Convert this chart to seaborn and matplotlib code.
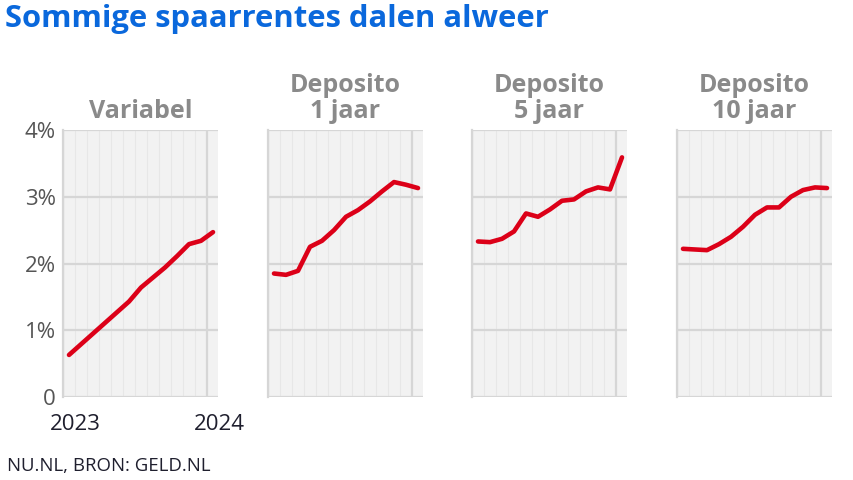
import matplotlib
matplotlib.use("Agg")
import matplotlib.pyplot as plt
import matplotlib.transforms as mtransforms
import seaborn as sns
import pandas as pd
import numpy as np

# ---- data (monthly, mid-month Jan 2023 .. Jan 2024) ----
months = [0.5, 1.5, 2.5, 3.5, 4.5, 5.5, 6.5, 7.5, 8.5, 9.5, 10.5, 11.5, 12.5]
variabel = [0.63, 0.79, 0.95, 1.11, 1.27, 1.43, 1.64, 1.79, 1.94, 2.11, 2.29, 2.34, 2.47]
deposito_1 = [1.85, 1.83, 1.89, 2.25, 2.34, 2.50, 2.70, 2.80, 2.93, 3.08, 3.22, 3.18, 3.13]
deposito_5 = [2.33, 2.32, 2.37, 2.48, 2.75, 2.70, 2.81, 2.94, 2.96, 3.08, 3.14, 3.11, 3.59]
deposito_10 = [2.22, 2.21, 2.20, 2.29, 2.40, 2.55, 2.73, 2.84, 2.84, 3.00, 3.10, 3.14, 3.13]

panel_titles = ["Variabel", "Deposito\n1 jaar", "Deposito\n5 jaar", "Deposito\n10 jaar"]
series = [variabel, deposito_1, deposito_5, deposito_10]
y_ticks = [0, 1, 2, 3, 4]
y_labels = ["0", "1%", "2%", "3%", "4%"]
x_ticks = [0, 12]
x_labels = ["2023", "2024"]

sns.set_theme(style="white")
plt.rcParams["font.family"] = ["Open Sans", "DejaVu Sans"]

W, H = 854, 480
fig = plt.figure(figsize=(W / 100, H / 100), dpi=100)

lefts = [63, 268, 472, 677]
pw = 155
top, bottom = 130, 397

for i, (lx, title, vals) in enumerate(zip(lefts, panel_titles, series)):
    ax = fig.add_axes([lx / W, 1 - bottom / H, pw / W, (bottom - top) / H])
    ax.set_facecolor("#f2f2f2")
    df = pd.DataFrame({"month": months, "rate": vals})
    sns.lineplot(data=df, x="month", y="rate", ax=ax, color="#dc0018",
                 linewidth=3.3, solid_capstyle="round", solid_joinstyle="round", zorder=5)
    ax.set_xlim(0, pw / 12)
    ax.set_ylim(0, 4)
    ax.set_xlabel("")
    ax.set_ylabel("")
    # minor monthly verticals
    ax.set_xticks(np.arange(1, 13), minor=True)
    ax.grid(which="minor", axis="x", color="#e7e7e7", linewidth=0.8, zorder=0)
    ax.set_xticks(x_ticks)
    ax.grid(which="major", axis="x", color="#d6d6d6", linewidth=1.6, zorder=1)
    ax.set_yticks(y_ticks)
    ax.grid(which="major", axis="y", color="#d6d6d6", linewidth=1.6, zorder=1)
    ax.tick_params(axis="x", which="major", length=7, width=1.6, color="#d6d6d6",
                   direction="out", pad=5, labelsize=16, labelcolor="#1f1f2e")
    ax.tick_params(axis="x", which="minor", length=0)
    ax.tick_params(axis="y", length=0, pad=5, labelsize=16, labelcolor="#555555")
    for s in ["top", "right", "bottom"]:
        ax.spines[s].set_visible(False)
    ax.spines["left"].set_color("#d6d6d6")
    ax.spines["left"].set_linewidth(1.6)
    if i == 0:
        ax.set_xticklabels(x_labels)
        ax.set_yticklabels(y_labels)
        shift = mtransforms.ScaledTranslation(12 / 100, 0, fig.dpi_scale_trans)
        for lab in ax.get_xticklabels():
            lab.set_transform(lab.get_transform() + shift)
    else:
        ax.set_xticklabels([])
        ax.set_yticklabels([])
    ax.set_title(title, fontsize=18, fontweight="bold", color="#8a8a8a",
                 pad=9, linespacing=1.05)

fig.text(5 / W, 1 - 19 / H, "Sommige spaarrentes dalen alweer", fontsize=22.3,
         fontweight="bold", color="#0a68dc", va="center", ha="left")
fig.text(7 / W, 1 - 466 / H, "NU.NL, BRON: GELD.NL", fontsize=13.4, color="#1f1f2e",
         va="center", ha="left")

fig.savefig("out.png", dpi=100)
